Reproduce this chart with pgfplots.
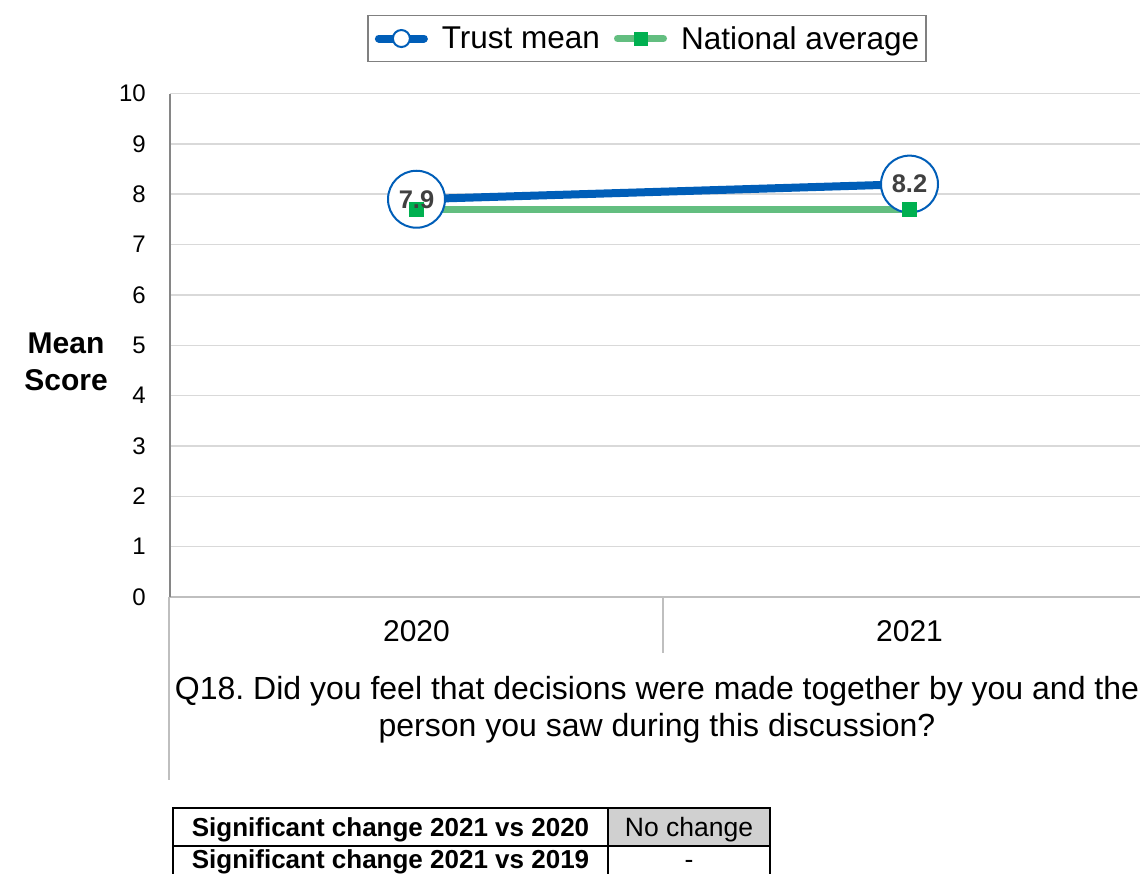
\documentclass[border=0pt]{standalone}
\usepackage{pgfplots}
\pgfplotsset{compat=1.18}
\usepackage{fontspec}
\setmainfont{Liberation Sans}
\frenchspacing
\definecolor{nhsblue}{RGB}{0,94,184}
\definecolor{natline}{RGB}{99,190,128}
\definecolor{natsq}{RGB}{0,176,80}
\definecolor{lblgray}{RGB}{64,64,64}
\definecolor{gridgray}{RGB}{217,217,217}
\definecolor{axlight}{RGB}{191,191,191}
\definecolor{axdark}{RGB}{134,134,134}
\definecolor{leggray}{RGB}{128,128,128}
\definecolor{cellgray}{RGB}{208,208,208}
\pgfplotsset{
  trustleg/.style={legend image code/.code={\draw[mark repeat=2,mark phase=2,##1,line cap=round,mark size=8.5pt] plot coordinates {(0pt,0pt) (22.5pt,0pt) (45pt,0pt)};}},
  natleg/.style={legend image code/.code={\draw[mark repeat=2,mark phase=2,##1,line cap=round,mark size=6.5pt] plot coordinates {(0pt,0pt) (23pt,0pt) (46pt,0pt)};}},
}
\begin{document}
\begin{tikzpicture}[x=1pt,y=1pt]
\useasboundingbox (0,0) rectangle (1140,-873);
\begin{scope}
\clip (0,0) rectangle (1140,-873);
\begin{axis}[
  at={(170pt,-597pt)}, anchor=south west,
  scale only axis, width=986pt, height=503.5pt,
  xmin=-0.5, xmax=1.5, ymin=0, ymax=10,
  xtick={0,1}, xticklabels={2020,2021},
  ytick={0,1,...,10},
  /pgf/number format/assume math mode=true,
  major tick length=0pt,
  axis x line*=bottom, axis y line*=left,
  x axis line style={color=axlight, line width=2pt, -},
  y axis line style={color=axdark, line width=1.5pt, -},
  ymajorgrids, grid style={color=gridgray, line width=1.5pt},
  yticklabel style={font=\fontsize{24}{24}\selectfont, anchor=east, inner sep=0pt, xshift=-24pt},
  xticklabel style={font=\fontsize{30}{30}\selectfont, anchor=north, inner sep=0pt, yshift=-23pt},
  legend columns=2,
  legend style={at={(0.4838,1.1092)}, anchor=center, draw=leggray, line width=1.5pt,
    font=\fontsize{31.5}{31.5}\selectfont, inner xsep=7pt, inner ysep=11pt,
    nodes={inner sep=0pt}, column sep=14pt},
]
\addplot[color=nhsblue, line width=8pt, mark=*, mark size=28.5pt,
  mark options={fill=white, draw=nhsblue, line width=2pt}, trustleg]
  coordinates {(0,7.9) (1,8.2)};
\addlegendentry{Trust mean}
\addplot[color=natline, line width=7pt, mark=square*, mark size=7pt,
  mark options={fill=natsq, draw=natsq, line width=0pt}, natleg]
  coordinates {(0,7.7) (1,7.7)};
\addlegendentry{National average}
\addplot[draw=none, mark=none, forget plot, nodes near coords, point meta=explicit symbolic,
  every node near coord/.style={anchor=center, font=\bfseries\fontsize{25.5}{25.5}\selectfont, color=lblgray}]
  coordinates {(0,7.9) [7.9] (1,8.2) [8.2]};
\end{axis}
\end{scope}
% axis extensions
\draw[color=axlight, line width=2pt] (169,-597) -- (169,-780);
\draw[color=axlight, line width=2pt] (663,-597) -- (663,-653);
% y label
\node[align=center, font=\bfseries\fontsize{30}{37}\selectfont] at (66,-362) {Mean\\Score};
% question
\node[align=center, font=\fontsize{32}{37}\selectfont] at (657,-710) {Q18. Did you feel that decisions were made together by you and the\\person you saw during this discussion?};
% table
\begin{scope}
\clip (0,0) rectangle (1140,-873);
\fill[cellgray] (608,-808) rectangle (770,-846);
\draw[black, line width=1.5pt] (173,-808) rectangle (770,-890);
\draw[black, line width=1.5pt] (608,-808) -- (608,-890);
\draw[black, line width=1.5pt] (173,-846) -- (770,-846);
\node[font=\bfseries\fontsize{26}{26}\selectfont, anchor=base] at (390.5,-836) {Significant change 2021 vs 2020};
\node[font=\fontsize{26.5}{26.5}\selectfont, anchor=base] at (689,-836) {No change};
\node[font=\bfseries\fontsize{26}{26}\selectfont, anchor=base] at (390.5,-868) {Significant change 2021 vs 2019};
\node[font=\fontsize{26.5}{26.5}\selectfont, anchor=base] at (689,-868) {-};
\end{scope}
\end{tikzpicture}
\end{document}
